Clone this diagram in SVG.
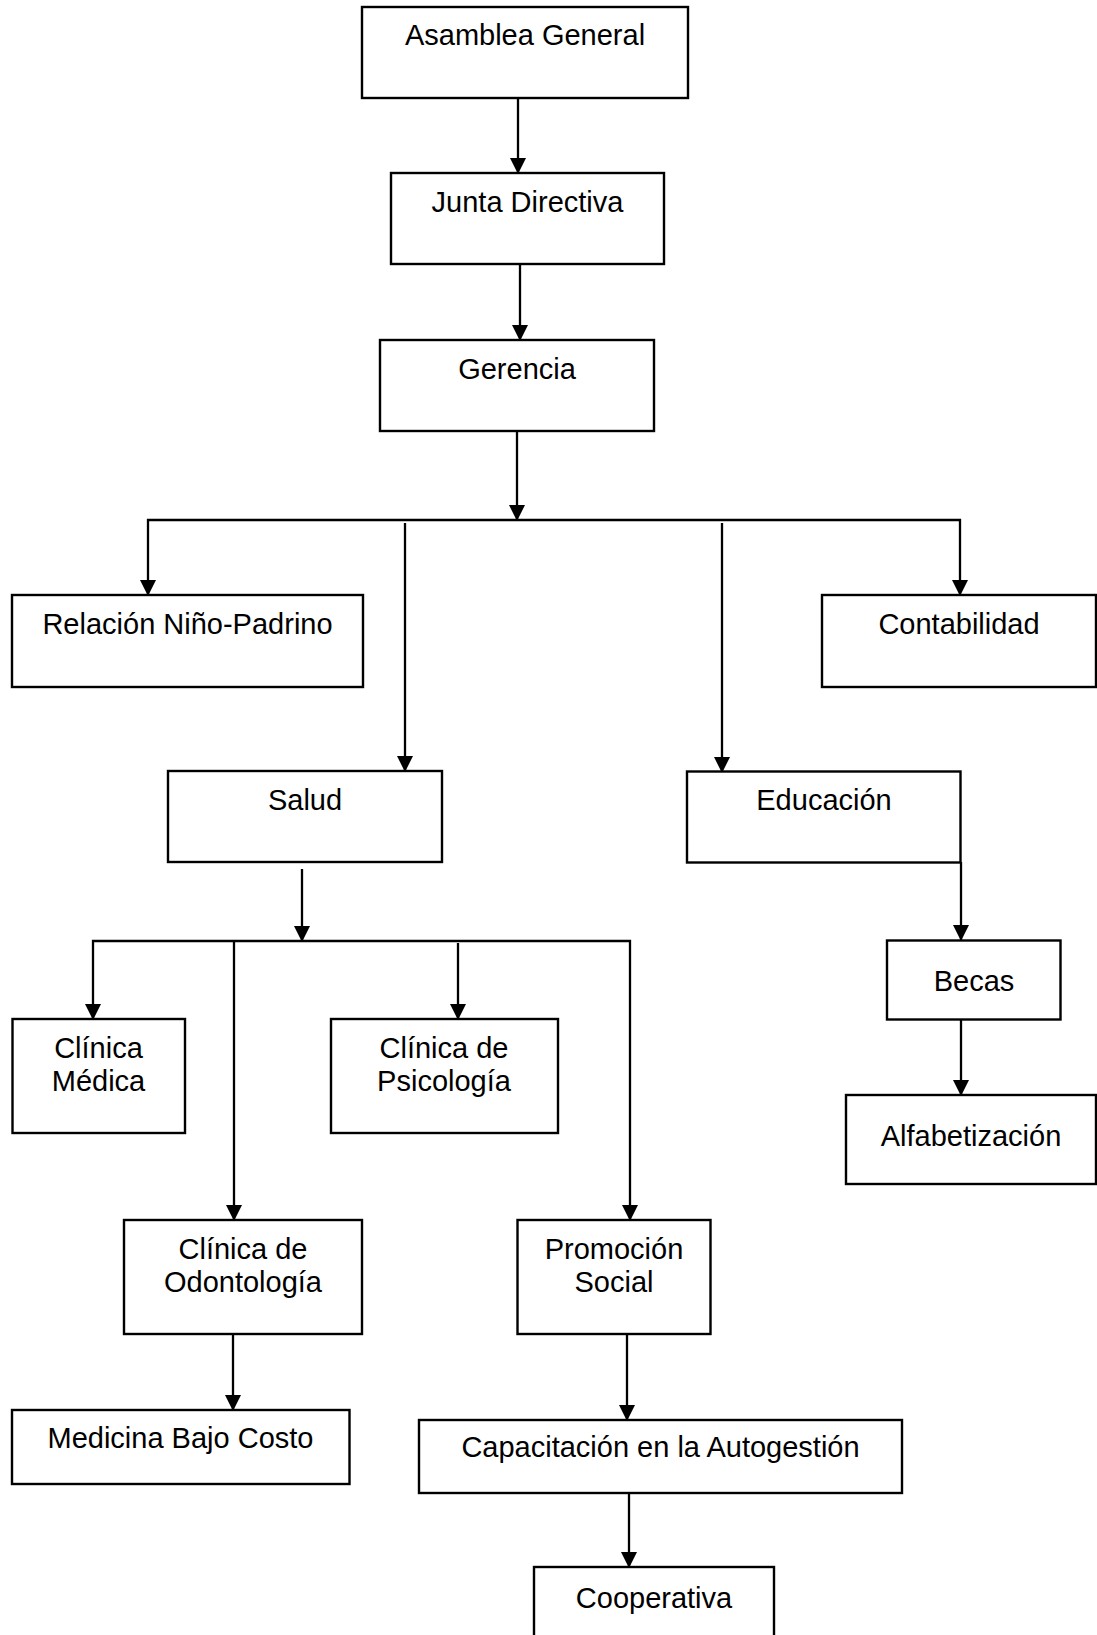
<svg xmlns="http://www.w3.org/2000/svg" width="1097" height="1635" viewBox="0 0 1097 1635">
<style>
.box{fill:#fff;stroke:#000;stroke-width:2.4}
.lbl{font-family:"Liberation Sans",Arial,sans-serif;font-size:29px;fill:#000;text-anchor:middle}
.con{fill:none;stroke:#000;stroke-width:2.3}
</style>
<defs>
<marker id="ah" viewBox="0 0 16 16" refX="15" refY="8" markerWidth="16" markerHeight="16" markerUnits="userSpaceOnUse" orient="auto">
<path d="M0,0 L16,8 L0,16 z" fill="#000"/>
</marker>
</defs>
<rect x="0" y="0" width="1097" height="1635" fill="#fff"/>
<g id="connectors">
<path class="con" d="M518,98 V173" marker-end="url(#ah)"/>
<path class="con" d="M520,264 V340" marker-end="url(#ah)"/>
<path class="con" d="M517,431 V520" marker-end="url(#ah)"/>
<path class="con" d="M517,520 H148 V595" marker-end="url(#ah)"/>
<path class="con" d="M517,520 H960 V595" marker-end="url(#ah)"/>
<path class="con" d="M405,523 V771" marker-end="url(#ah)"/>
<path class="con" d="M722,523 V772" marker-end="url(#ah)"/>
<path class="con" d="M302,869 V941" marker-end="url(#ah)"/>
<path class="con" d="M302,941 H93 V1019" marker-end="url(#ah)"/>
<path class="con" d="M234,941 V1220" marker-end="url(#ah)"/>
<path class="con" d="M302,941 H630 V1220" marker-end="url(#ah)"/>
<path class="con" d="M458,943 V1019" marker-end="url(#ah)"/>
<path class="con" d="M961,862 V940" marker-end="url(#ah)"/>
<path class="con" d="M961,1019 V1095" marker-end="url(#ah)"/>
<path class="con" d="M233,1334 V1410" marker-end="url(#ah)"/>
<path class="con" d="M627,1334 V1420" marker-end="url(#ah)"/>
<path class="con" d="M629,1493 V1567" marker-end="url(#ah)"/>
</g>
<g id="asamblea"><rect class="box" x="362" y="7" width="326" height="91"/><text class="lbl" x="525" y="45">Asamblea General</text></g>
<g id="junta"><rect class="box" x="391" y="173" width="273" height="91"/><text class="lbl" x="527.5" y="212">Junta Directiva</text></g>
<g id="gerencia"><rect class="box" x="380" y="340" width="274" height="91"/><text class="lbl" x="517" y="379">Gerencia</text></g>
<g id="relacion"><rect class="box" x="12" y="595" width="351" height="92"/><text class="lbl" x="187.5" y="634">Relación Niño-Padrino</text></g>
<g id="contabilidad"><rect class="box" x="822" y="595" width="274" height="92"/><text class="lbl" x="959" y="634">Contabilidad</text></g>
<g id="salud"><rect class="box" x="168" y="771" width="274" height="91"/><text class="lbl" x="305" y="810">Salud</text></g>
<g id="educacion"><rect class="box" x="687" y="771.5" width="273.5" height="91"/><text class="lbl" x="824" y="810">Educación</text></g>
<g id="becas"><rect class="box" x="887" y="940.5" width="173.5" height="79"/><text class="lbl" x="974" y="991">Becas</text></g>
<g id="alfabetizacion"><rect class="box" x="846" y="1095" width="250" height="89"/><text class="lbl" x="971" y="1146">Alfabetización</text></g>
<g id="medica"><rect class="box" x="12.5" y="1019" width="172.5" height="114"/><text class="lbl" x="98.5" y="1058">Clínica</text><text class="lbl" x="98.5" y="1091">Médica</text></g>
<g id="psicologia"><rect class="box" x="331" y="1019" width="227" height="114"/><text class="lbl" x="444" y="1058">Clínica de</text><text class="lbl" x="444" y="1091">Psicología</text></g>
<g id="odontologia"><rect class="box" x="124" y="1220" width="238" height="114"/><text class="lbl" x="243" y="1259">Clínica de</text><text class="lbl" x="243" y="1292">Odontología</text></g>
<g id="promocion"><rect class="box" x="517.5" y="1220" width="193" height="114"/><text class="lbl" x="614" y="1259">Promoción</text><text class="lbl" x="614" y="1292">Social</text></g>
<g id="medicina"><rect class="box" x="12" y="1410" width="337.5" height="74"/><text class="lbl" x="180.5" y="1448">Medicina Bajo Costo</text></g>
<g id="capacitacion"><rect class="box" x="419" y="1420" width="483" height="73"/><text class="lbl" x="660.5" y="1457">Capacitación en la Autogestión</text></g>
<g id="cooperativa"><rect class="box" x="534" y="1567" width="240" height="80"/><text class="lbl" x="654" y="1608">Cooperativa</text></g>
</svg>
